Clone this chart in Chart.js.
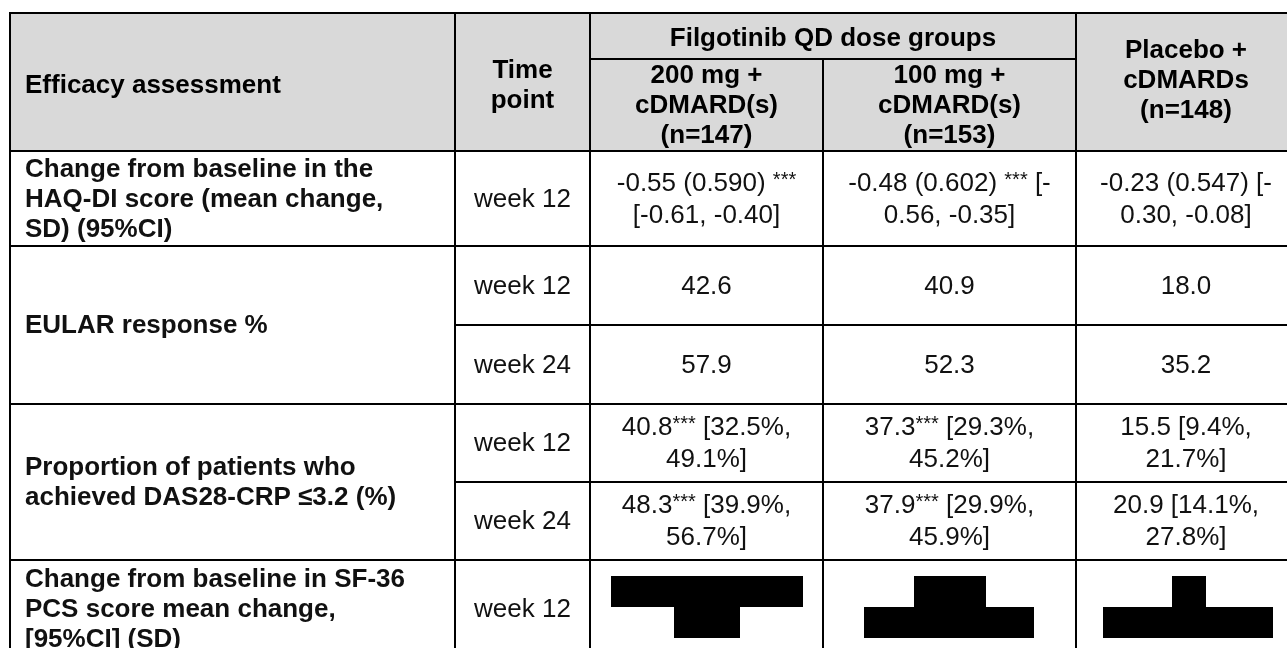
<!DOCTYPE html>
<html>
<head>
<meta charset="utf-8">
<script src="https://cdn.jsdelivr.net/npm/chart.js@4.4.1/dist/chart.umd.min.js"></script>
<style>
html,body{margin:0;padding:0;background:#fff;}
#wrap{width:1287px;height:648px;position:relative;}
</style>
</head>
<body>
<div id="wrap"><canvas id="c"></canvas></div>
<script>
// ---------- DATA (text content of the table) ----------
const headerAssessment = 'Efficacy assessment';
const headerTime = ['Time', 'point'];
const groupHeader = 'Filgotinib QD dose groups';
const armHeaders = [
  ['200 mg +', 'cDMARD(s)', '(n=147)'],
  ['100 mg +', 'cDMARD(s)', '(n=153)'],
  ['Placebo +', 'cDMARDs', '(n=148)']
];
const assessments = [
  ['Change from baseline in the', 'HAQ-DI score (mean change,', 'SD) (95%CI)'],
  ['EULAR response %'],
  ['Proportion of patients who', 'achieved DAS28-CRP \u22643.2 (%)'],
  ['Change from baseline in SF-36', 'PCS score mean change,', '[95%CI] (SD)']
];
const timePoints = ['week 12', 'week 12', 'week 24', 'week 12', 'week 24', 'week 12'];
const filgo200 = [
  ['-0.55 (0.590) ***', '[-0.61, -0.40]'],
  ['42.6'],
  ['57.9'],
  ['40.8*** [32.5%,', '49.1%]'],
  ['48.3*** [39.9%,', '56.7%]'],
  null
];
const filgo100 = [
  ['-0.48 (0.602) *** [-', '0.56, -0.35]'],
  ['40.9'],
  ['52.3'],
  ['37.3*** [29.3%,', '45.2%]'],
  ['37.9*** [29.9%,', '45.9%]'],
  null
];
const placebo = [
  ['-0.23 (0.547) [-', '0.30, -0.08]'],
  ['18.0'],
  ['35.2'],
  ['15.5 [9.4%,', '21.7%]'],
  ['20.9 [14.1%,', '27.8%]'],
  null
];

// ---------- LAYOUT (table units on the chart's linear scales) ----------
const L = {
  cols: [10, 455, 590, 823, 1076, 1296],
  top: 13, groupSplit: 59, headBottom: 151,
  rows: [151, 246, 325, 404, 482, 560, 668],      // body sub-row edges
  blocks: [[0, 1], [1, 3], [3, 5], [5, 6]],      // block -> sub-row edge indices
  padLeft: 15,
  lineH: 30,
  valueLineH: 32,
  size: 26,
  headerFill: '#d9d9d9',
  // redaction boxes, per value column of the SF-36 row (table units)
  redact: [
    [[611, 803, 576, 607], [674, 740, 607, 638]],
    [[914, 986, 576, 607], [864, 1034, 607, 638]],
    [[1172, 1206, 576, 607], [1103, 1273, 607, 638]]
  ]
};
const FONT = '"Liberation Sans", Arial, Helvetica, sans-serif';
const STAR = 0.78;

function richWidth(ctx, s, size, bold) {
  const parts = s.split('***');
  let w = 0;
  ctx.font = (bold ? 'bold ' : '') + size + 'px ' + FONT;
  parts.forEach(p => w += ctx.measureText(p).width);
  ctx.font = Math.round(size * STAR) + 'px ' + FONT;
  w += (parts.length - 1) * ctx.measureText('***').width;
  return w;
}
function drawRich(ctx, s, x, y, align, size, bold) {
  const w = richWidth(ctx, s, size, bold);
  let cx = align === 'center' ? x - w / 2 : x;
  const parts = s.split('***');
  ctx.textBaseline = 'middle';
  ctx.textAlign = 'left';
  parts.forEach((p, i) => {
    ctx.font = (bold ? 'bold ' : '') + size + 'px ' + FONT;
    ctx.fillText(p, cx, y);
    cx += ctx.measureText(p).width;
    if (i < parts.length - 1) {
      ctx.font = Math.round(size * STAR) + 'px ' + FONT;
      ctx.fillText('***', cx, y - size * 0.12);
      cx += ctx.measureText('***').width;
    }
  });
}

const tablePlugin = {
  id: 'tablePlugin',
  afterDraw(chart) {
    const ctx = chart.ctx;
    const xs = chart.scales.x, ys = chart.scales.y;
    const X = v => xs.getPixelForValue(v);
    const Y = v => ys.getPixelForValue(v);
    const c = L.cols;
    ctx.save();
    // header background
    ctx.fillStyle = L.headerFill;
    ctx.fillRect(X(c[0]), Y(L.top), X(c[5]) - X(c[0]), Y(L.headBottom) - Y(L.top));

    const lines = (arr, x, yc, align, bold, lh) => {
      const n = arr.length;
      const step = lh || L.lineH;
      arr.forEach((t, i) => {
        const y = yc + (i - (n - 1) / 2) * step;
        drawRich(ctx, t, X(x), Y(y), align, L.size, bold);
      });
    };
    ctx.fillStyle = '#000';
    // header text
    const hMid = (L.top + L.headBottom) / 2 + 4;
    lines([headerAssessment], c[0] + L.padLeft, hMid, 'left', true);
    lines(headerTime, (c[1] + c[2]) / 2, hMid, 'center', true);
    lines([groupHeader], (c[2] + c[4]) / 2, (L.top + L.groupSplit) / 2 + 3, 'center', true);
    const subMid = (L.groupSplit + L.headBottom) / 2 + 1;
    lines(armHeaders[0], (c[2] + c[3]) / 2, subMid, 'center', true);
    lines(armHeaders[1], (c[3] + c[4]) / 2, subMid, 'center', true);
    lines(armHeaders[2], (c[4] + c[5]) / 2, hMid - 5, 'center', true);

    // body text
    ctx.fillStyle = '#111';
    const sfMid = (L.rows[5] + 660) / 2;
    assessments.forEach((a, b) => {
      const [r0, r1] = L.blocks[b];
      const mid = b === 3 ? sfMid : (L.rows[r0] + L.rows[r1]) / 2 + 1;
      lines(a, c[0] + L.padLeft, mid, 'left', true);
    });
    const valueCols = [filgo200, filgo100, placebo];
    timePoints.forEach((tp, r) => {
      const mid = r === 5 ? sfMid : (L.rows[r] + L.rows[r + 1]) / 2 + 1;
      lines([tp], (c[1] + c[2]) / 2, mid, 'center', false);
      valueCols.forEach((col, k) => {
        if (col[r]) lines(col[r], (c[2 + k] + c[3 + k]) / 2, mid, 'center', false, L.valueLineH);
      });
    });

    // redaction boxes
    ctx.fillStyle = '#000';
    L.redact.forEach(boxes => boxes.forEach(([x0, x1, y0, y1]) => {
      ctx.fillRect(X(x0), Y(y0), X(x1) - X(x0), Y(y1) - Y(y0));
    }));

    // grid lines
    ctx.strokeStyle = '#000';
    ctx.lineWidth = 2;
    const hl = (y, x0, x1) => { ctx.beginPath(); ctx.moveTo(X(x0) - 1, Y(y)); ctx.lineTo(X(x1) + 1, Y(y)); ctx.stroke(); };
    const vl = (x, y0, y1) => { ctx.beginPath(); ctx.moveTo(X(x), Y(y0) - 1); ctx.lineTo(X(x), Y(y1) + 1); ctx.stroke(); };
    const bottom = L.rows[L.rows.length - 1];
    hl(L.top, c[0], c[5]);
    hl(L.groupSplit, c[2], c[4]);
    hl(L.headBottom, c[0], c[5]);
    hl(L.rows[1], c[0], c[5]);
    hl(L.rows[2], c[1], c[5]);
    hl(L.rows[3], c[0], c[5]);
    hl(L.rows[4], c[1], c[5]);
    hl(L.rows[5], c[0], c[5]);
    vl(c[0], L.top, bottom);
    vl(c[1], L.top, bottom);
    vl(c[2], L.top, bottom);
    vl(c[3], L.groupSplit, bottom);
    vl(c[4], L.top, bottom);
    vl(c[5], L.top, bottom);
    ctx.restore();
  }
};

new Chart(document.getElementById('c'), {
  type: 'scatter',
  data: { datasets: [] },
  options: {
    responsive: true,
    maintainAspectRatio: false,
    animation: false,
    layout: { padding: 0 },
    plugins: { legend: { display: false }, tooltip: { enabled: false } },
    scales: {
      x: { type: 'linear', min: 0, max: 1287, display: false },
      y: { type: 'linear', min: 0, max: 648, reverse: true, display: false }
    }
  },
  plugins: [tablePlugin]
});
</script>
</body>
</html>
